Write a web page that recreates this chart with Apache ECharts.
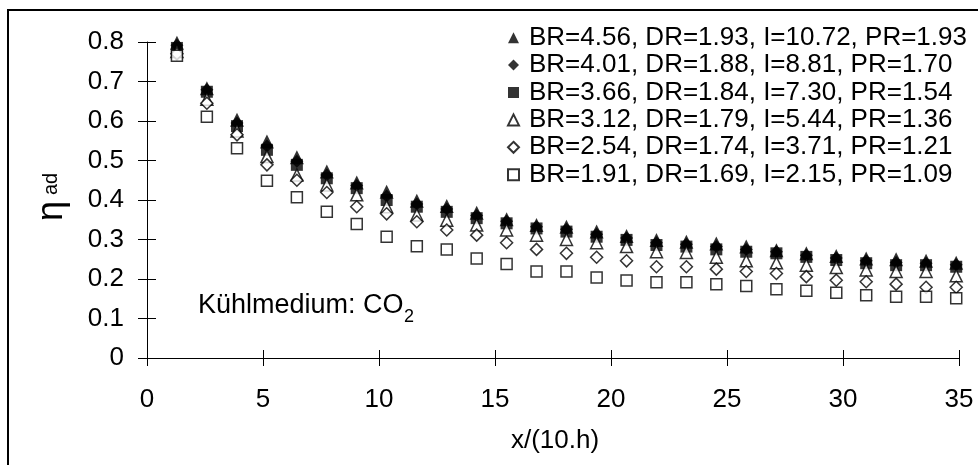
<!DOCTYPE html>
<html lang="de">

<head>
    <meta charset="UTF-8">
    <title>eta ad ueber x</title>
    <script src="https://cdn.jsdelivr.net/npm/echarts@6.0.0/dist/echarts.min.js"></script>
    <style>
        html, body { margin: 0; padding: 0; background: #fff; }
    </style>
</head>

<body>
    <div id="main" style="width: 978px;height:465px;"></div>

    <script>
        // x-Positionen der Messpunkte
        var xWerte = [1.29, 2.58, 3.88, 5.17, 6.46, 7.75, 9.04, 10.33, 11.63, 12.92, 14.21, 15.50, 16.79, 18.08,
            19.38, 20.67, 21.96, 23.25, 24.54, 25.83, 27.13, 28.42, 29.71, 31.00, 32.29, 33.58, 34.88];

        var namen = [
            'BR=4.56, DR=1.93, I=10.72, PR=1.93',
            'BR=4.01, DR=1.88, I=8.81, PR=1.70',
            'BR=3.66, DR=1.84, I=7.30, PR=1.54',
            'BR=3.12, DR=1.79, I=5.44, PR=1.36',
            'BR=2.54, DR=1.74, I=3.71, PR=1.21',
            'BR=1.91, DR=1.69, I=2.15, PR=1.09'
        ];

        var br456 = [0.798, 0.683, 0.603, 0.548, 0.508, 0.472, 0.444, 0.421, 0.398, 0.385, 0.368, 0.351, 0.337, 0.332,
            0.320, 0.309, 0.299, 0.294, 0.290, 0.282, 0.273, 0.265, 0.258, 0.252, 0.250, 0.246, 0.241];
        var br401 = [0.792, 0.679, 0.595, 0.537, 0.498, 0.463, 0.437, 0.410, 0.390, 0.377, 0.361, 0.346, 0.332, 0.326,
            0.313, 0.304, 0.292, 0.288, 0.282, 0.275, 0.269, 0.260, 0.253, 0.246, 0.242, 0.240, 0.236];
        var br366 = [0.785, 0.674, 0.587, 0.527, 0.489, 0.455, 0.430, 0.400, 0.383, 0.370, 0.354, 0.341, 0.328, 0.320,
            0.307, 0.299, 0.286, 0.282, 0.275, 0.269, 0.265, 0.256, 0.248, 0.240, 0.235, 0.235, 0.231];
        var br312 = [0.776, 0.655, 0.575, 0.510, 0.463, 0.438, 0.413, 0.383, 0.362, 0.349, 0.337, 0.324, 0.311, 0.300,
            0.292, 0.282, 0.269, 0.267, 0.255, 0.246, 0.241, 0.235, 0.229, 0.223, 0.219, 0.219, 0.208];
        var br254 = [0.770, 0.645, 0.565, 0.489, 0.450, 0.419, 0.383, 0.365, 0.345, 0.324, 0.311, 0.292, 0.275, 0.265,
            0.255, 0.246, 0.231, 0.231, 0.225, 0.219, 0.214, 0.206, 0.197, 0.193, 0.187, 0.179, 0.179];
        var br191 = [0.765, 0.611, 0.531, 0.449, 0.407, 0.370, 0.339, 0.307, 0.283, 0.275, 0.252, 0.238, 0.219, 0.219,
            0.204, 0.196, 0.192, 0.192, 0.187, 0.182, 0.174, 0.170, 0.165, 0.159, 0.155, 0.155, 0.151];

        var werte = [br456, br401, br366, br312, br254, br191];
        var symbole = ['triangle', 'diamond', 'rect', 'triangle', 'diamond', 'rect'];
        var gefuellt = [true, true, true, false, false, false];
        var groessen = [14, 13, 12, 12, 12, 11];

        var schrift = "'Liberation Sans', Arial, sans-serif";

        var myChart = echarts.init(document.getElementById('main'));

        var series = [];
        for (var i = 0; i < werte.length; i++) {
            var daten = [];
            for (var k = 0; k < xWerte.length; k++) {
                daten.push([xWerte[k], werte[i][k]]);
            }
            series.push({
                name: namen[i],
                type: 'scatter',
                symbol: symbole[i],
                symbolSize: groessen[i],
                itemStyle: gefuellt[i] ? {
                    color: '#000',
                    borderColor: '#000',
                    borderWidth: 0
                } : {
                    color: '#fff',
                    borderColor: '#000',
                    borderWidth: 1.5
                },
                emphasis: { disabled: true },
                data: daten
            });
        }

        var achsenLinie = { lineStyle: { color: '#000', width: 1 } };

        var option = {
            animation: false,
            backgroundColor: '#fff',
            textStyle: { fontFamily: schrift },
            grid: { left: 147, right: 19, top: 42, bottom: 107 },
            legend: {
                orient: 'vertical',
                left: 507,
                top: 24,
                padding: 0,
                itemGap: 0,
                itemWidth: 11,
                itemHeight: 11,
                textStyle: { fontSize: 26, lineHeight: 27.4, color: '#000', fontFamily: schrift, padding: [0, 0, 0, 5] },
                data: namen
            },
            xAxis: [{
                type: 'value',
                min: 0,
                max: 35,
                interval: 5,
                position: 'bottom',
                axisLine: achsenLinie,
                axisTick: { show: true, inside: false, length: 8, lineStyle: { color: '#000' } },
                axisLabel: { fontSize: 26, color: '#000', margin: 29, fontFamily: schrift },
                splitLine: { show: false }
            }, {
                type: 'value',
                min: 0,
                max: 35,
                interval: 5,
                position: 'bottom',
                axisLine: { show: false },
                axisTick: { show: true, inside: true, length: 8, lineStyle: { color: '#000' } },
                axisLabel: { show: false },
                splitLine: { show: false }
            }],
            yAxis: [{
                type: 'value',
                min: 0,
                max: 0.8,
                interval: 0.1,
                position: 'left',
                axisLine: achsenLinie,
                axisTick: { show: true, inside: false, length: 9, lineStyle: { color: '#000' } },
                axisLabel: { fontSize: 26, color: '#000', margin: 23, fontFamily: schrift },
                splitLine: { show: false }
            }, {
                type: 'value',
                min: 0,
                max: 0.8,
                interval: 0.1,
                position: 'left',
                axisLine: { show: false },
                axisTick: { show: true, inside: true, length: 9, lineStyle: { color: '#000' } },
                axisLabel: { show: false },
                splitLine: { show: false }
            }],
            graphic: [
                // Rahmen
                {
                    type: 'rect',
                    shape: { x: 8, y: 10, width: 1000, height: 500 },
                    style: { fill: 'none', stroke: '#000', lineWidth: 2 },
                    silent: true
                },
                // Achsentitel
                {
                    type: 'text',
                    x: 555, y: 441,
                    style: { text: 'x/(10.h)', fontSize: 26, fontFamily: schrift, fill: '#000', align: 'center', verticalAlign: 'middle' }
                },
                {
                    type: 'text',
                    x: 52, y: 211, rotation: Math.PI / 2,
                    style: { text: 'η', fontSize: 36, fontFamily: schrift, fill: '#000', align: 'center', verticalAlign: 'middle' }
                },
                {
                    type: 'text',
                    x: 51, y: 184, rotation: Math.PI / 2,
                    style: { text: 'ad', fontSize: 20, fontFamily: schrift, fill: '#000', align: 'center', verticalAlign: 'middle' }
                },
                // Kuehlmedium
                {
                    type: 'text',
                    x: 198, y: 306,
                    style: { text: 'Kühlmedium: CO', fontSize: 27, fontFamily: schrift, fill: '#000', align: 'left', verticalAlign: 'middle' }
                },
                {
                    type: 'text',
                    x: 404, y: 317,
                    style: { text: '2', fontSize: 18, fontFamily: schrift, fill: '#000', align: 'left', verticalAlign: 'middle' }
                }
            ],
            series: series
        };

        myChart.setOption(option);
    </script>
</body>

</html>
